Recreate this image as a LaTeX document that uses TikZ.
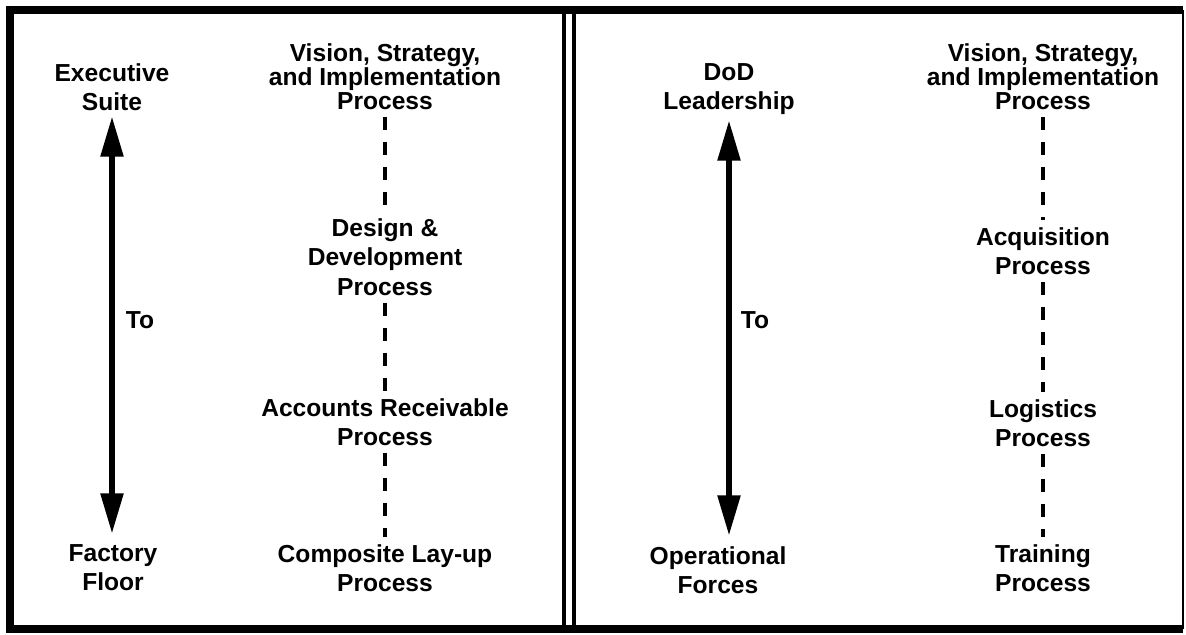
\documentclass[tikz,border=0pt]{standalone}
\usepackage{fontspec}
\setmainfont{Liberation Sans}
\usepackage{tikz}
\usetikzlibrary{positioning,arrows.meta}

\tikzset{
  lbl/.style={font=\bfseries\fontsize{14}{16.8}\selectfont, align=center, inner sep=0pt, anchor=north},
  tight/.style={font=\bfseries\fontsize{14}{12.3}\selectfont},
  updown/.style={{Triangle[length=0.8cm,width=0.44cm]}-{Triangle[length=0.8cm,width=0.44cm]}, line width=3pt, shorten <=3pt, shorten >=6pt},
  link/.style={line width=2.2pt, dash pattern=on 7.4pt off 6.8pt, shorten <=4pt, shorten >=4pt}
}

\begin{document}
\begin{tikzpicture}[x=0.02cm,y=-0.02cm]
  \useasboundingbox (0,0) rectangle (1186,635);

  % frame
  \draw[line width=4pt] (1183,10) -- (10,10) -- (10,629) -- (1183,629);
  \draw[line width=0.9pt] (1183,10) -- (1183,629);
  \draw[line width=2.6pt] (564,10) -- (564,629);
  \draw[line width=2.6pt] (574,10) -- (574,629);

  % left panel
  \node[lbl] (exec) at (112,63) {Executive\\Suite};
  \node[lbl] (factory) at (113,544) {Factory\\Floor};
  \node[lbl,anchor=center] (toL) at (140,320) {To};
  \node[lbl,tight] (visL) at (385,43) {Vision, Strategy,\\and Implementation\\Process};
  \node[lbl] (design) at (385,218) {Design \&\\Development\\Process};
  \node[lbl] (accounts) at (385,398) {Accounts Receivable\\Process};
  \node[lbl] (composite) at (385,544) {Composite Lay-up\\Process};

  \draw[updown] (exec.south) -- (exec.south |- factory.north);
  \draw[link] (visL) -- (design);
  \draw[link] (design) -- (accounts);
  \draw[link] (accounts) -- (composite);

  % right panel
  \node[lbl] (dod) at (729,63) {DoD\\Leadership};
  \node[lbl] (operational) at (718,546) {Operational\\Forces};
  \node[lbl,anchor=center] (toR) at (755,320) {To};
  \node[lbl,tight] (visR) at (1043,43) {Vision, Strategy,\\and Implementation\\Process};
  \node[lbl] (acquisition) at (1043,227) {Acquisition\\Process};
  \node[lbl] (logistics) at (1043,399) {Logistics\\Process};
  \node[lbl] (training) at (1043,544) {Training\\Process};

  \draw[updown] (dod.south) -- (dod.south |- operational.north);
  \draw[link] (visR) -- (acquisition);
  \draw[link] (acquisition) -- (logistics);
  \draw[link] (logistics) -- (training);
\end{tikzpicture}
\end{document}
